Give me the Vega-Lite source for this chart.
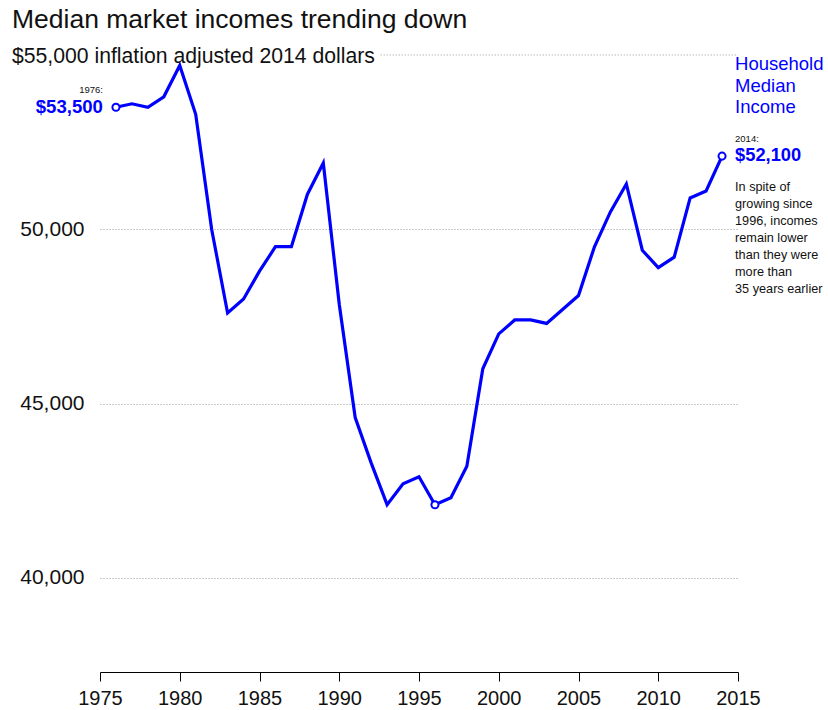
{
  "$schema": "https://vega.github.io/schema/vega-lite/v6.json",
  "width": 638,
  "height": 617,
  "autosize": "none",
  "padding": {"left": 100, "top": 55, "right": 90, "bottom": 38},
  "background": "white",
  "config": {"font": "Liberation Sans", "view": {"stroke": null}},
  "data": {"values": [
    {"year": 1976, "income": 53500}, {"year": 1977, "income": 53600}, {"year": 1978, "income": 53500},
    {"year": 1979, "income": 53800}, {"year": 1980, "income": 54700}, {"year": 1981, "income": 53300},
    {"year": 1982, "income": 50000}, {"year": 1983, "income": 47600}, {"year": 1984, "income": 48000},
    {"year": 1985, "income": 48800}, {"year": 1986, "income": 49500}, {"year": 1987, "income": 49500},
    {"year": 1988, "income": 51000}, {"year": 1989, "income": 51900}, {"year": 1990, "income": 47850},
    {"year": 1991, "income": 44600}, {"year": 1992, "income": 43300}, {"year": 1993, "income": 42100},
    {"year": 1994, "income": 42700}, {"year": 1995, "income": 42900}, {"year": 1996, "income": 42100},
    {"year": 1997, "income": 42300}, {"year": 1998, "income": 43200}, {"year": 1999, "income": 46000},
    {"year": 2000, "income": 47000}, {"year": 2001, "income": 47400}, {"year": 2002, "income": 47400},
    {"year": 2003, "income": 47300}, {"year": 2004, "income": 47700}, {"year": 2005, "income": 48100},
    {"year": 2006, "income": 49500}, {"year": 2007, "income": 50500}, {"year": 2008, "income": 51300},
    {"year": 2009, "income": 49400}, {"year": 2010, "income": 48900}, {"year": 2011, "income": 49200},
    {"year": 2012, "income": 50900}, {"year": 2013, "income": 51100}, {"year": 2014, "income": 52100}
  ]},
  "layer": [
    {
      "mark": {"type": "line", "color": "#0000ff", "strokeWidth": 3.2, "strokeJoin": "miter"},
      "encoding": {
        "x": {"field": "year", "type": "quantitative", "scale": {"domain": [1975, 2015], "nice": false, "zero": false},
          "axis": {"title": null, "values": [1975, 1980, 1985, 1990, 1995, 2000, 2005, 2010, 2015], "format": "d", "grid": false,
            "domainColor": "#000", "tickColor": "#000", "tickSize": 9, "labelFontSize": 20, "labelColor": "#111", "labelPadding": 7, "labelFlush": false}},
        "y": {"field": "income", "type": "quantitative", "scale": {"domain": [37300, 55000], "nice": false, "zero": false},
          "axis": {"title": null, "values": [40000, 45000, 50000], "format": ",d", "grid": true, "gridDash": [1, 2], "gridColor": "#999",
            "domain": false, "ticks": false, "labelFontSize": 21, "labelColor": "#111", "labelPadding": 16}}
      }
    },
    {
      "data": {"values": [{}]},
      "mark": {"type": "rule", "strokeDash": [1, 2], "color": "#999", "strokeWidth": 1},
      "encoding": {"x": {"datum": 1992.6}, "x2": {"datum": 2015}, "y": {"datum": 55000}}
    },
    {
      "transform": [{"filter": "datum.year == 1976 || datum.year == 1996 || datum.year == 2014"}],
      "mark": {"type": "point", "filled": true, "fill": "white", "stroke": "#0000ff", "strokeWidth": 2, "size": 50, "opacity": 1},
      "encoding": {"x": {"field": "year", "type": "quantitative"}, "y": {"field": "income", "type": "quantitative"}}
    },
    {
      "data": {"values": [{}]},
      "mark": {"type": "text", "text": "Median market incomes trending down", "align": "left", "baseline": "alphabetic", "dx": -88, "dy": -27, "fontSize": 26.5, "color": "#111"},
      "encoding": {"x": {"datum": 1975}, "y": {"datum": 55000}}
    },
    {
      "data": {"values": [{}]},
      "mark": {"type": "text", "text": "$55,000 inflation adjusted 2014 dollars", "align": "left", "baseline": "alphabetic", "dx": -88, "dy": 8, "fontSize": 21.2, "color": "#111"},
      "encoding": {"x": {"datum": 1975}, "y": {"datum": 55000}}
    },
    {
      "data": {"values": [{}]},
      "mark": {"type": "text", "text": "$53,500", "align": "right", "baseline": "middle", "dx": -13, "fontSize": 18.6, "fontWeight": "bold", "color": "#0000ff"},
      "encoding": {"x": {"datum": 1976}, "y": {"datum": 53500}}
    },
    {
      "data": {"values": [{}]},
      "mark": {"type": "text", "text": "1976:", "align": "right", "baseline": "middle", "dx": -13, "dy": -17, "fontSize": 9.5, "color": "#111"},
      "encoding": {"x": {"datum": 1976}, "y": {"datum": 53500}}
    },
    {
      "data": {"values": [{}]},
      "mark": {"type": "text", "text": "$52,100", "align": "left", "baseline": "middle", "dx": 13, "fontSize": 18.3, "fontWeight": "bold", "color": "#0000ff"},
      "encoding": {"x": {"datum": 2014}, "y": {"datum": 52100}}
    },
    {
      "data": {"values": [{}]},
      "mark": {"type": "text", "text": "2014:", "align": "left", "baseline": "middle", "dx": 13, "dy": -17, "fontSize": 9.5, "color": "#111"},
      "encoding": {"x": {"datum": 2014}, "y": {"datum": 52100}}
    },
    {
      "data": {"values": [{}]},
      "mark": {"type": "text", "text": ["Household", "Median", "Income"], "align": "left", "baseline": "top", "dx": 13, "dy": 0, "lineHeight": 21.5, "fontSize": 18.5, "color": "#0000ff"},
      "encoding": {"x": {"datum": 2014}, "y": {"datum": 55000}}
    },
    {
      "data": {"values": [{}]},
      "mark": {"type": "text", "text": ["In spite of", "growing since", "1996, incomes", "remain lower", "than they were", "more than", "35 years earlier"], "align": "left", "baseline": "top", "dx": 13, "dy": 25, "lineHeight": 17, "fontSize": 12.7, "color": "#111"},
      "encoding": {"x": {"datum": 2014}, "y": {"datum": 52100}}
    }
  ]
}
